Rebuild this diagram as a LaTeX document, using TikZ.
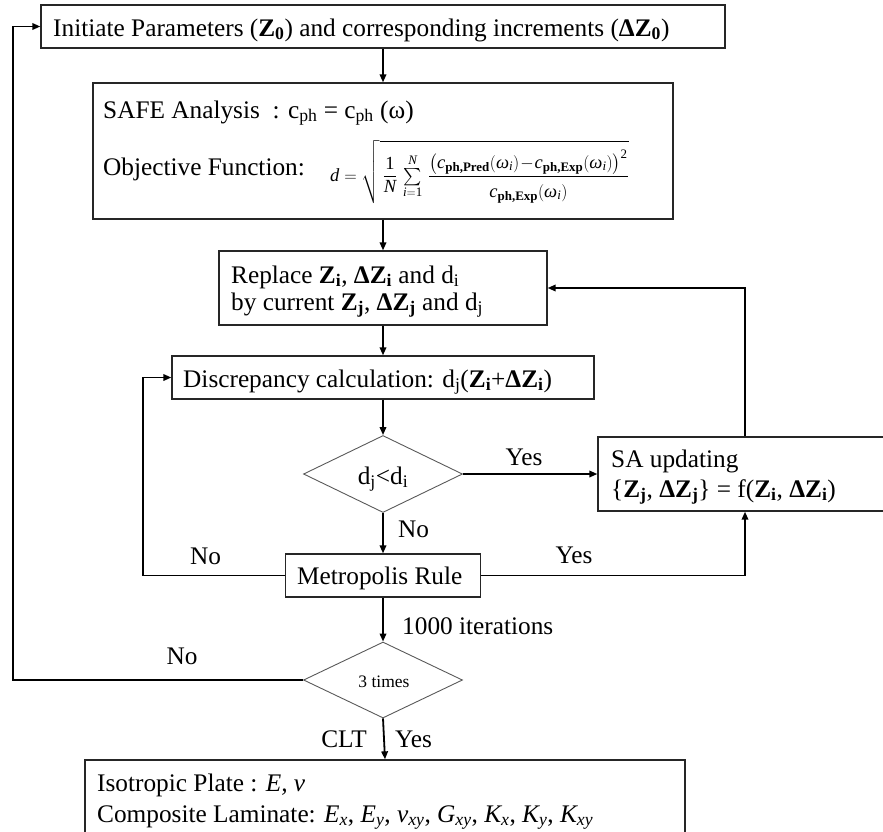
\documentclass[tikz,border=0pt]{standalone}
\usepackage{amsmath}
\usepackage{fontspec}
\setmainfont{Liberation Serif}
\usetikzlibrary{shapes.geometric,arrows.meta}
\begin{document}
\begin{tikzpicture}[x=1pt,y=-1pt,
  every node/.style={font=\fontsize{25.3}{30}\selectfont, inner sep=0pt},
  box/.style={draw=black!85, line width=1.3pt, rectangle},
  dec/.style={draw=black!65, line width=0.9pt, diamond},
  txt/.style={anchor=base west},
  lbl/.style={anchor=base},
  conn/.style={line width=1.8pt, -{Triangle[length=8pt,width=6.5pt]}}
]
\useasboundingbox (0,0) rectangle (883,831);

% boxes
\node[box, minimum width=684pt, minimum height=43pt] (init) at (383,26.5) {};
\node[box, minimum width=580pt, minimum height=136pt] (safe) at (383,151) {};
\node[box, minimum width=328pt, minimum height=74pt] (repl) at (383,288) {};
\node[box, minimum width=422pt, minimum height=43pt] (disc) at (383,377.5) {};
\node[dec, minimum width=159pt, minimum height=77pt] (dij) at (383,474) {};
\node[box, minimum width=297pt, minimum height=74pt] (sa) at (746.5,474) {};
\node[box, minimum width=195pt, minimum height=43pt] (metro) at (383,575.5) {};
\node[dec, minimum width=159pt, minimum height=76pt] (three) at (383,680) {};
\node[box, minimum width=600pt, minimum height=85pt] (res) at (385,802.5) {};

% texts
\node[txt] (tinit) at (53,36) {Initiate Parameters (\textbf{Z\textsubscript{0}}) and corresponding increments (\textbf{ΔZ\textsubscript{0}})};
\node[txt] (tsafe) at (103,118) {SAFE Analysis~ : c\textsubscript{ph} = c\textsubscript{ph} (ω)};
\node[txt] (tobj) at (103,175) {Objective Function:};
\node[anchor=west, font=\fontsize{18.5}{22}\selectfont] (form) at (330,172)
 {$\textit{d}=\sqrt{\rule[-22pt]{0pt}{60pt}\,\dfrac{\textrm{1}}{\textit{N}}\,\sum\limits_{\textit{i}=\textrm{1}}^{\textit{N}}\,\dfrac{\rule[-5pt]{0pt}{5pt}\bigl(\textit{c}_{\textbf{ph,Pred}}(\textit{ω}_{\textit{i}})\!-\!\textit{c}_{\textbf{ph,Exp}}(\textit{ω}_{\textit{i}})\bigr)^{\textrm{2}}}{\rule{0pt}{18pt}\textit{c}_{\textbf{ph,Exp}}(\textit{ω}_{\textit{i}})}}$};
\node[txt] (trepl1) at (231,283) {Replace \textbf{Z\textsubscript{i}}, \textbf{ΔZ\textsubscript{i}} and d\textsubscript{i}};
\node[txt] (trepl2) at (231,310) {by current \textbf{Z\textsubscript{j}}, \textbf{ΔZ\textsubscript{j}} and d\textsubscript{j}};
\node[txt] (tdisc) at (183,387) {Discrepancy calculation: d\textsubscript{j}(\textbf{Z\textsubscript{i}}+\textbf{ΔZ\textsubscript{i}})};
\node[lbl] (tdij) at (383,484) {d\textsubscript{j}<d\textsubscript{i}};
\node[txt] (tsa1) at (611,467) {SA updating};
\node[txt] (tsa2) at (611,497) {\{\textbf{Z\textsubscript{j}}, \textbf{ΔZ\textsubscript{j}}\} = f(\textbf{Z\textsubscript{i}}, \textbf{ΔZ\textsubscript{i}})};
\node[txt] (tmetro) at (297,584) {Metropolis Rule};
\node[lbl, font=\fontsize{17.5}{20}\selectfont] (t3) at (384,687) {3 times};
\node[txt] (tres1) at (97,791) {Isotropic Plate : \textit{E, v}};
\node[txt] (tres2) at (97,822) {Composite Laminate: \textit{E\textsubscript{x}}, \textit{E\textsubscript{y}}, \textit{v\textsubscript{xy}}, \textit{G\textsubscript{xy}}, \textit{K\textsubscript{x}}, \textit{K\textsubscript{y}}, \textit{K\textsubscript{xy}}};

% labels
\node[lbl] (lyes1) at (524,465) {Yes};
\node[txt] (lno1) at (398,537) {No};
\node[txt] (lno2) at (190,564) {No};
\node[lbl] (lyes2) at (574,563) {Yes};
\node[txt] (liter) at (402,634) {1000 iterations};
\node[lbl] (lno3) at (182,664) {No};
\node[lbl] (lclt) at (344,747) {CLT};
\node[txt] (lyes3) at (395,747) {Yes};

% connectors
\coordinate (xl) at (13,0);
\coordinate (xm) at (143,0);
\coordinate (xr) at (745,0);
\draw[conn] (init.south) -- (safe.north);
\draw[conn] (safe.south) -- (repl.north);
\draw[conn] (repl.south) -- (disc.north);
\draw[conn] (disc.south) -- (dij.north);
\draw[conn] (dij.east) -- (sa.west);
\draw[conn] (dij.south) -- (metro.north);
\draw[conn] (metro.west) -| (xm |- disc.west) -- (disc.west);
\draw[conn] (metro.east) -| (xr |- sa.south);
\draw[conn] (xr |- sa.north) |- (repl.east);
\draw[conn] (metro.south) -- (three.north);
\draw[conn] (three.west) -| (xl |- init.west) -- (init.west);
\draw[conn] (three.south) -- (res.north);
\end{tikzpicture}
\end{document}
